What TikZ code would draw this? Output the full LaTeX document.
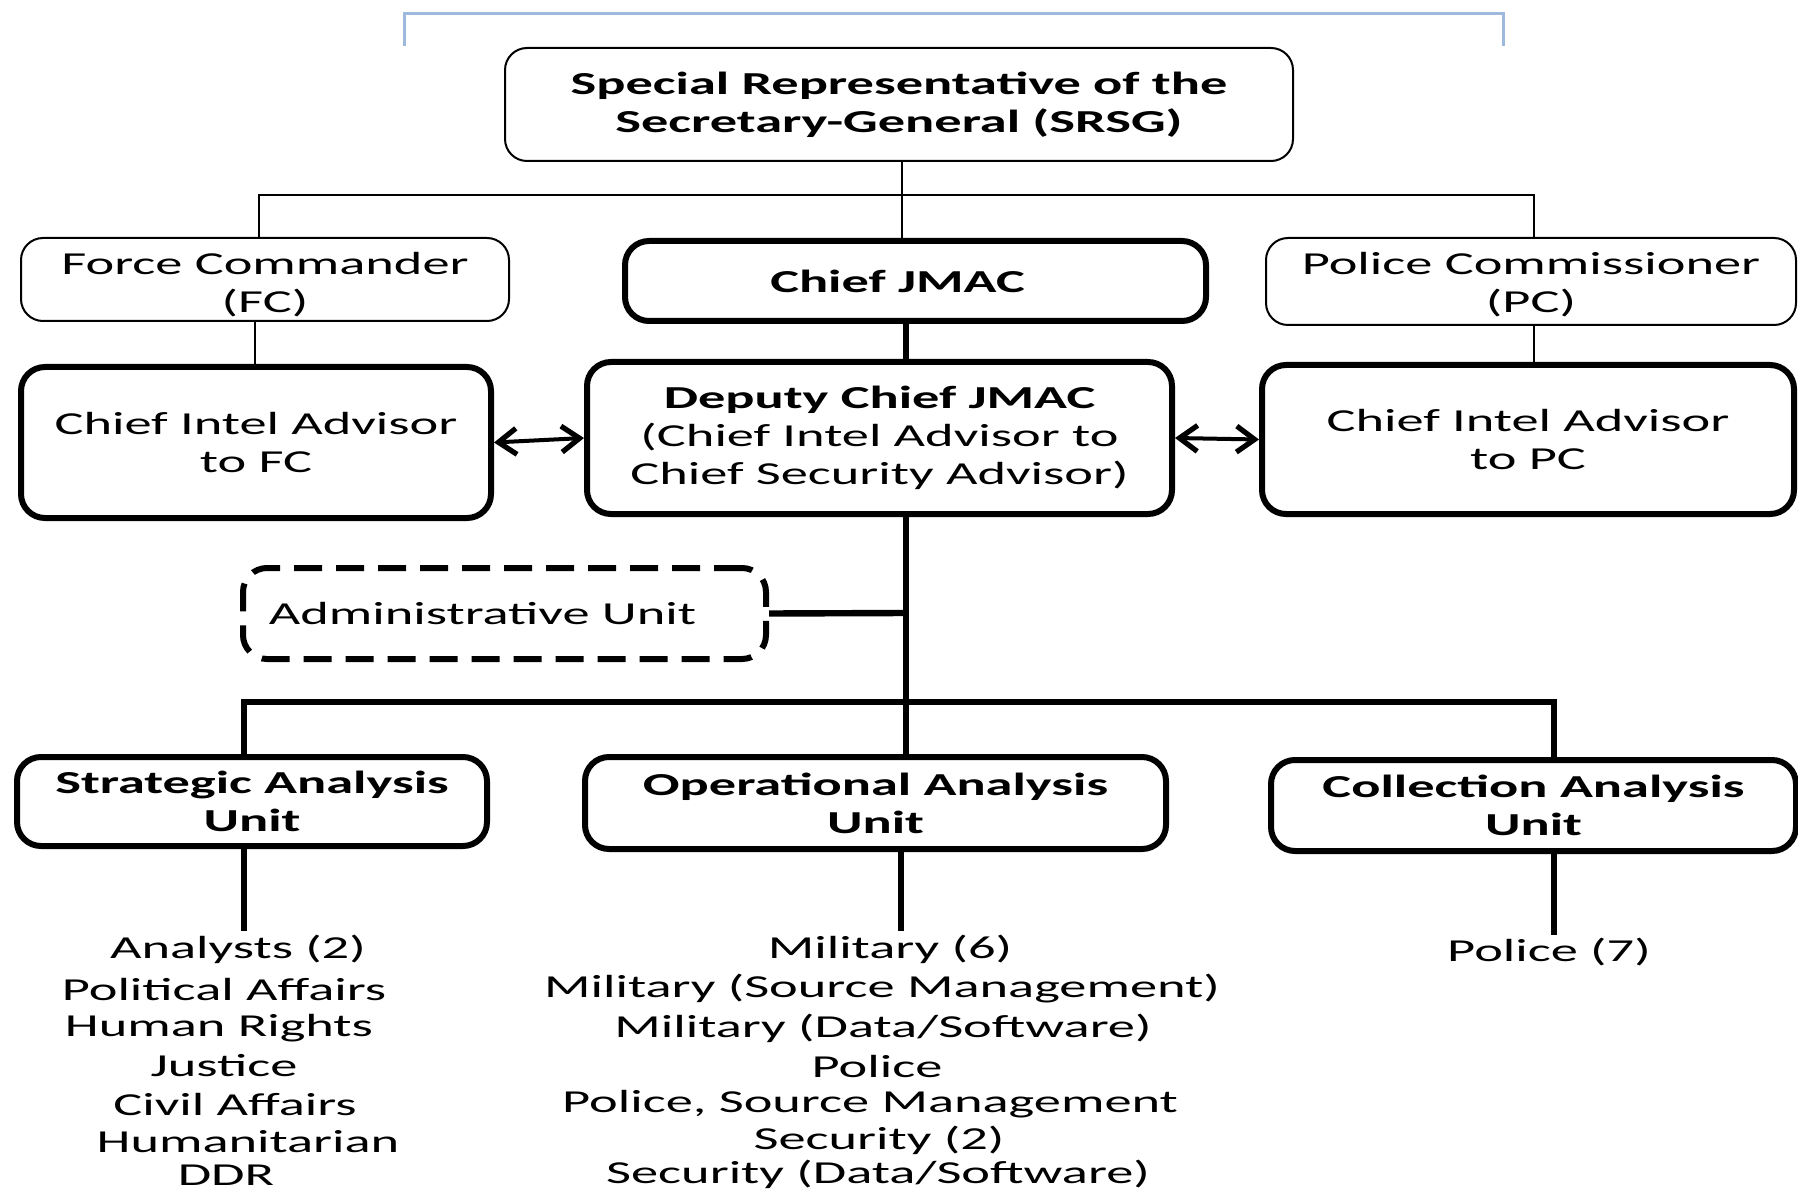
\documentclass[tikz,border=0pt]{standalone}
\usepackage{fontspec}
\setmainfont{Carlito}[FakeStretch=1.7]
\usetikzlibrary{arrows.meta}
\definecolor{bracketblue}{HTML}{9DB9DD}
\tikzset{
  txt/.style={font=\fontsize{16}{19}\selectfont, align=center, inner sep=0pt},
  thinbox/.style={txt, draw, line width=1pt, rounded corners=11pt},
  thickbox/.style={txt, draw, line width=3pt, rounded corners=12pt},
  dashbox/.style={txt, draw, line width=3pt, rounded corners=12pt, dash pattern=on 14pt off 7pt},
  thinline/.style={line width=1pt},
  thickline/.style={line width=3.2pt},
  dblarrow/.style={line width=2pt, {Straight Barb[length=9pt,width=13pt,line width=2.6pt]}-{Straight Barb[length=9pt,width=13pt,line width=2.6pt]}},
  listtxt/.style={txt}
}
\begin{document}
\begin{tikzpicture}[x=0.5pt,y=-0.5pt]
\useasboundingbox (0,0) rectangle (1798,1192);
% blue bracket at top
\draw[bracketblue, line width=1.5pt] (404,46) -- (404,14) -- (1503,14) -- (1503,46);

% boxes
\node[thinbox, minimum width=394pt, minimum height=56.5pt] (srsg) at (899,104.5)
  {\textbf{Special Representative of the}\\\textbf{Secretary-General (SRSG)}};
\node[thinbox, minimum width=244pt, minimum height=41.5pt] (fc) at (265,279.5)
  {\rule{0pt}{16pt}Force Commander\\(FC)};
\node[thickbox, minimum width=290.5pt, minimum height=40pt] (cjmac) at (915.5,281)
  {\hspace*{-18pt}\textbf{Chief JMAC}};
\node[thinbox, minimum width=265pt, minimum height=43.5pt] (pc) at (1531,281.5)
  {\rule{0pt}{14.5pt}Police Commissioner\\(PC)};
\node[thickbox, minimum width=235pt, minimum height=75.5pt] (ciafc) at (256,442.5)
  {Chief Intel Advisor\\to FC};
\node[thickbox, minimum width=292.5pt, minimum height=76pt] (dep) at (879.5,438)
  {\textbf{Deputy Chief JMAC}\\(Chief Intel Advisor to\\Chief Security Advisor)};
\node[thickbox, minimum width=266pt, minimum height=74.5pt] (ciapc) at (1528,439.5)
  {Chief Intel Advisor\\to PC};
\node[dashbox, minimum width=261.5pt, minimum height=45.5pt] (admin) at (504.5,613.5)
  {\hspace*{-22pt}Administrative Unit};
\node[thickbox, minimum width=235pt, minimum height=44.5pt] (sau) at (252,801.5)
  {\textbf{Strategic Analysis}\\\textbf{Unit}};
\node[thickbox, minimum width=290.5pt, minimum height=46pt] (oau) at (875.5,803)
  {\textbf{Operational Analysis}\\\textbf{Unit}};
\node[thickbox, minimum width=262.5pt, minimum height=45.5pt] (cau) at (1533.5,805.5)
  {\textbf{Collection Analysis}\\\textbf{Unit}};

% strategic list
\node[listtxt] (s1) at (238,949) {Analysts (2)};
\node[listtxt] (s2) at (224,989) {Political Affairs};
\node[listtxt] (s3) at (219,1028) {Human Rights};
\node[listtxt] (s4) at (224,1066) {Justice};
\node[listtxt] (s5) at (235,1104) {Civil Affairs};
\node[listtxt] (s6) at (248,1142) {Humanitarian};
\node[listtxt] (s7) at (226,1175) {DDR};
% operational list
\node[listtxt] (o1) at (890,949) {Military (6)};
\node[listtxt] (o2) at (882,989) {Military (Source Management)};
\node[listtxt] (o3) at (883,1028) {Military (Data/Software)};
\node[listtxt] (o4) at (877,1066) {Police};
\node[listtxt] (o5) at (870,1104) {Police, Source Management};
\node[listtxt] (o6) at (879,1140) {Security (2)};
\node[listtxt] (o7) at (878,1174) {Security (Data/Software)};
% collection list
\node[listtxt] (c1) at (1549,952) {Police (7)};

% top connectors (thin)
\coordinate (busL) at (259,195);
\coordinate (busR) at (1534,195);
\draw[thinline] (srsg.south -| 902,0) -- (cjmac.north -| 902,0);
\draw[thinline] (busL |- fc.north) -- (busL) -- (busR) -- (busR |- pc.north);
\draw[thinline] (fc.south -| 255,0) -- (ciafc.north -| 255,0);
\draw[thinline] (pc.south -| 1534,0) -- (ciapc.north -| 1534,0);

% thick connectors
\draw[thickline] (cjmac.south -| 906,0) -- (dep.north -| 906,0);
\draw[thickline] (dep.south -| 906,0) -- (oau.north -| 906,0);
\coordinate (adminJ) at (906,613);
\draw[thickline] (admin.east) -- (adminJ);
\coordinate (bus2L) at (244,702);
\coordinate (bus2R) at (1554,702);
\draw[thickline] (sau.north -| bus2L) -- (bus2L) -- (bus2R) -- (cau.north -| bus2R);

% drops to lists
\coordinate (sEnd) at (244,931);
\coordinate (oEnd) at (901,931);
\coordinate (cEnd) at (1554,935);
\draw[thickline] (sau.south -| sEnd) -- (sEnd);
\draw[thickline] (oau.south -| oEnd) -- (oEnd);
\draw[thickline] (cau.south -| cEnd) -- (cEnd);

% double arrows
\draw[dblarrow] (ciafc.east) -- (dep.west);
\draw[dblarrow] (dep.east) -- (ciapc.west);
\end{tikzpicture}
\end{document}
